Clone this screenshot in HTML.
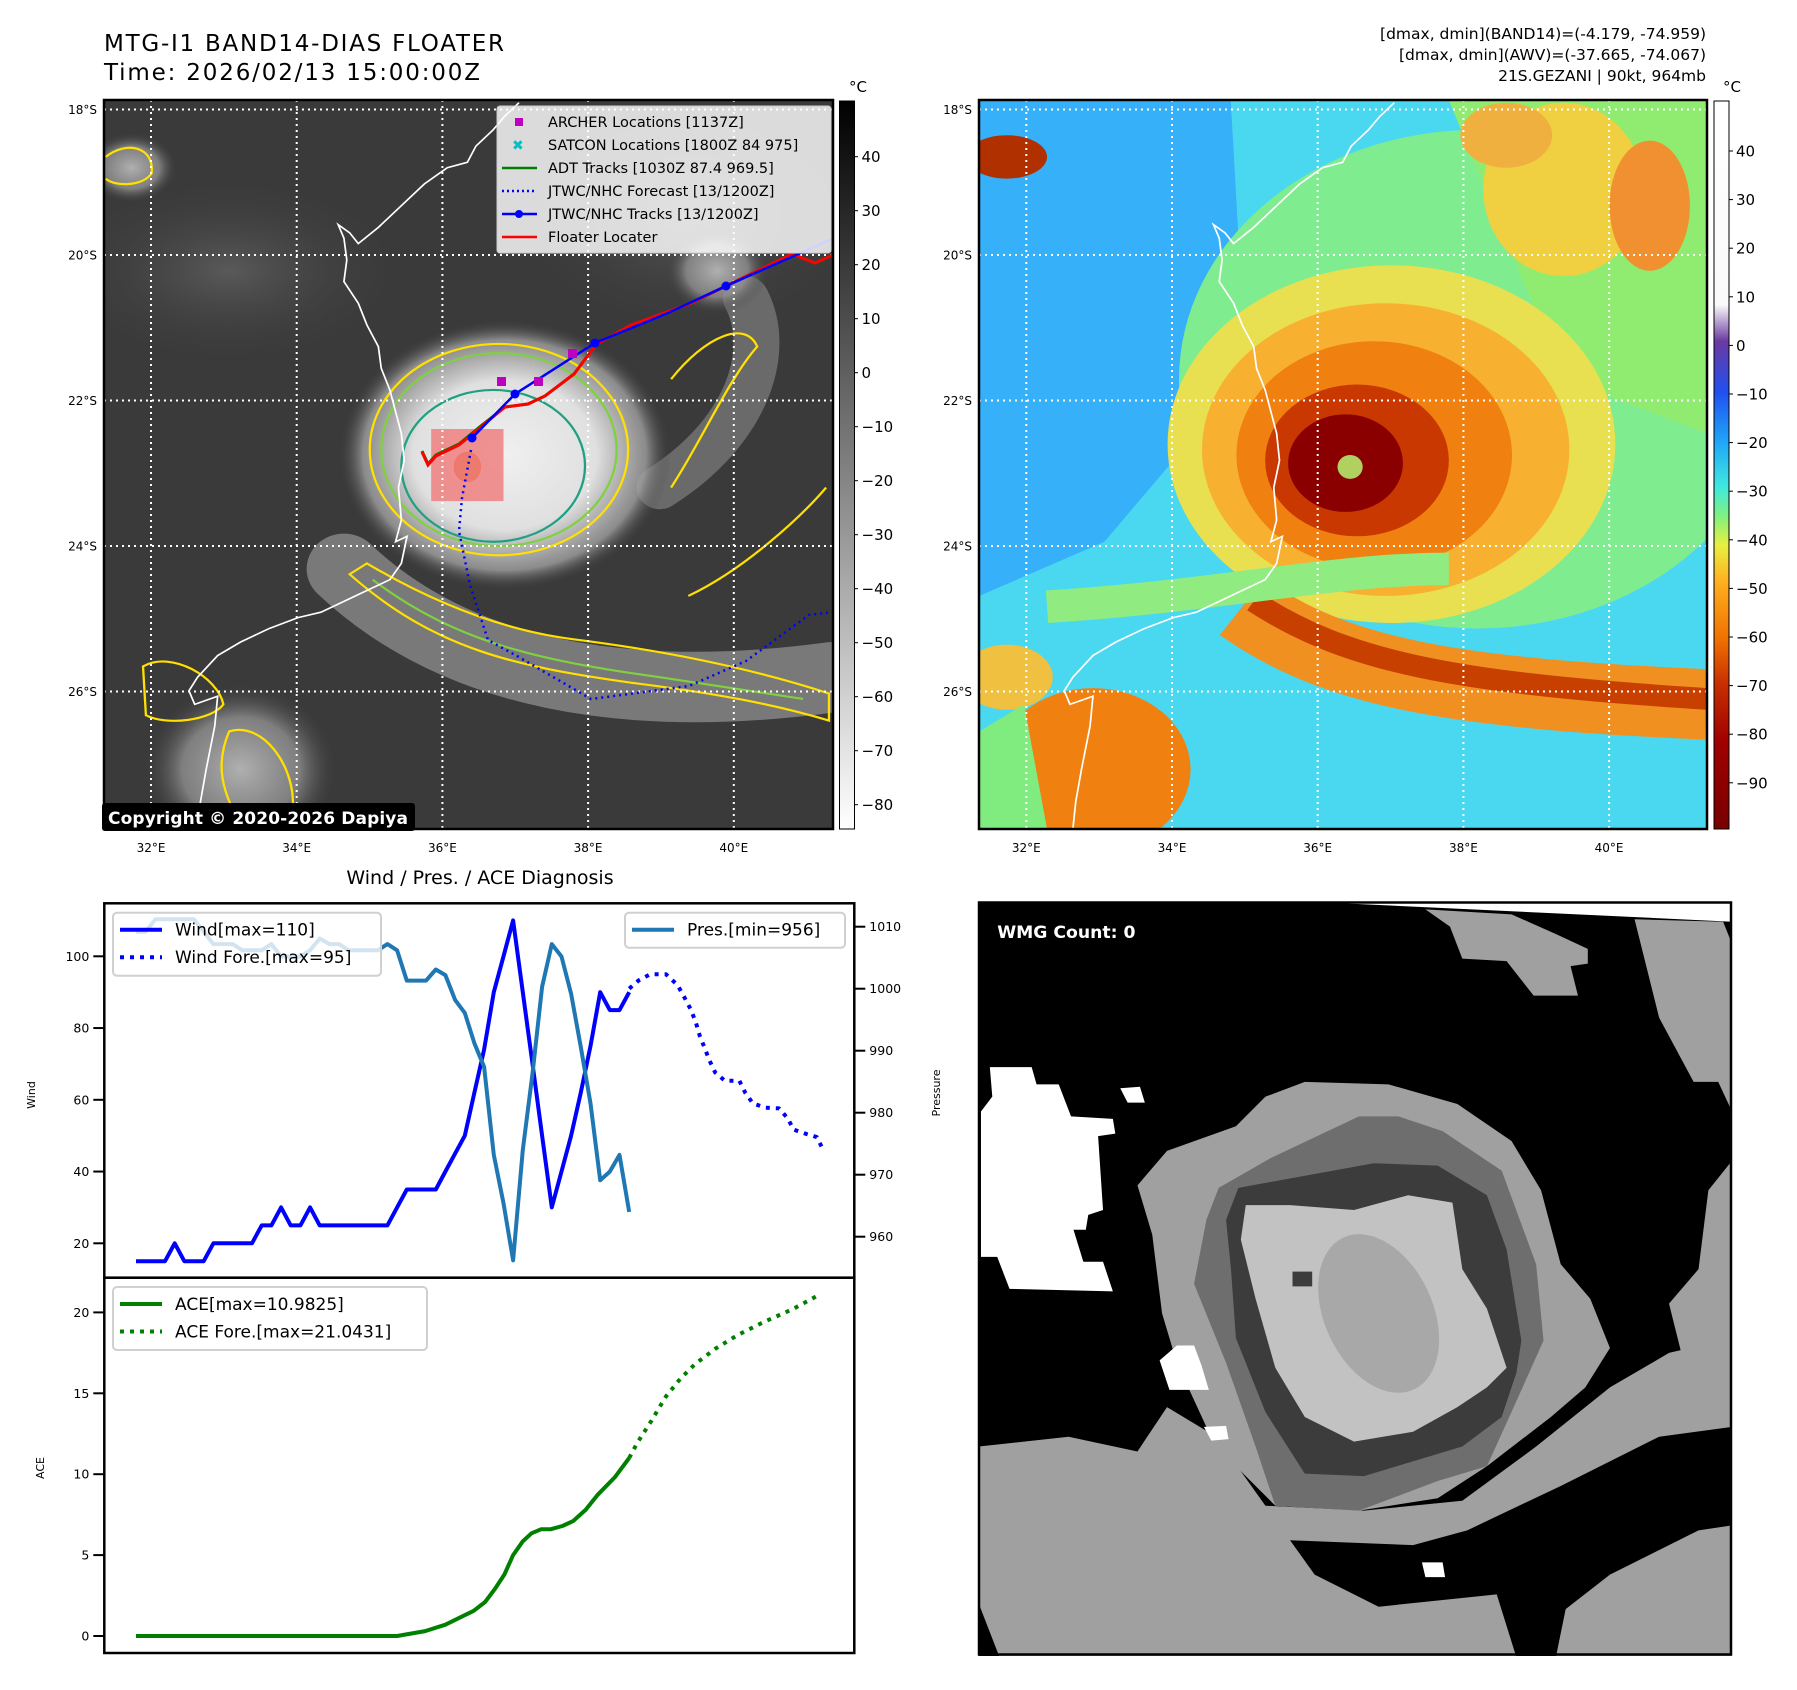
<!DOCTYPE html>
<html><head><meta charset="utf-8"><style>
html,body{margin:0;padding:0;background:#fff;}
svg{display:block;font-family:"DejaVu Sans","Liberation Sans",sans-serif;}
</style></head><body>
<svg id="root" width="1797" height="1690" viewBox="0 0 1797 1690" xmlns="http://www.w3.org/2000/svg">
<defs>
<radialGradient id="rgLight"><stop offset="0" stop-color="#f0f0f0"/><stop offset="0.55" stop-color="#e0e0e0"/><stop offset="0.85" stop-color="#a0a0a0" stop-opacity="0.8"/><stop offset="1" stop-color="#3a3a3a" stop-opacity="0"/></radialGradient>
<radialGradient id="rgGray"><stop offset="0" stop-color="#b0b0b0"/><stop offset="0.6" stop-color="#909090" stop-opacity="0.8"/><stop offset="1" stop-color="#3a3a3a" stop-opacity="0"/></radialGradient>
<radialGradient id="rgDim"><stop offset="0" stop-color="#5a5a5a"/><stop offset="1" stop-color="#3a3a3a" stop-opacity="0"/></radialGradient>
<clipPath id="clip1"><rect x="104" y="100" width="729" height="729"/></clipPath>
<clipPath id="clip2"><rect x="979" y="100" width="729" height="729"/></clipPath>
<linearGradient id="cb1" x1="0" y1="0" x2="0" y2="1"><stop offset="0" stop-color="#000"/><stop offset="1" stop-color="#fff"/></linearGradient>
<linearGradient id="cb2" x1="0" y1="0" x2="0" y2="1">
<stop offset="0" stop-color="#fff"/><stop offset="0.28" stop-color="#fafafa"/><stop offset="0.33" stop-color="#6a3aa0"/>
<stop offset="0.40" stop-color="#2050f0"/><stop offset="0.47" stop-color="#20a8f8"/><stop offset="0.53" stop-color="#40e8e0"/>
<stop offset="0.57" stop-color="#80f080"/><stop offset="0.61" stop-color="#e8f040"/><stop offset="0.66" stop-color="#ffb020"/>
<stop offset="0.74" stop-color="#f07000"/><stop offset="0.80" stop-color="#c83000"/><stop offset="0.88" stop-color="#a00000"/><stop offset="1" stop-color="#780000"/>
</linearGradient>
</defs>

<text x="104" y="51" font-size="23" textLength="400">MTG-I1 BAND14-DIAS FLOATER</text>
<text x="104" y="80" font-size="23" textLength="376">Time: 2026/02/13 15:00:00Z</text>
<g font-size="15.5" text-anchor="end">
<text x="1706" y="39">[dmax, dmin](BAND14)=(-4.179, -74.959)</text>
<text x="1706" y="60">[dmax, dmin](AWV)=(-37.665, -74.067)</text>
<text x="1706" y="81">21S.GEZANI | 90kt, 964mb</text>
</g>

<g clip-path="url(#clip1)">
<rect x="104" y="100" width="729" height="729" fill="#3a3a3a"/>
<g transform="translate(104,100) scale(0.574,0.542) translate(-182,-185)">
<ellipse cx="400" cy="500" rx="320" ry="180" fill="url(#rgDim)"/>
<ellipse cx="1200" cy="400" rx="320" ry="220" fill="url(#rgDim)"/>
<path d="M600,1050 C800,1250 1100,1300 1450,1250" stroke="#8a8a8a" stroke-opacity="0.8" stroke-width="130" fill="none" stroke-linecap="round"/>
<path d="M1150,900 C1300,800 1350,650 1300,550" stroke="#6a6a6a" stroke-width="80" fill="none" stroke-linecap="round"/>
<ellipse cx="880" cy="840" rx="290" ry="250" fill="url(#rgLight)"/>
<ellipse cx="230" cy="310" rx="80" ry="65" fill="url(#rgGray)"/>
<ellipse cx="420" cy="1420" rx="170" ry="160" fill="url(#rgGray)"/>
<ellipse cx="1250" cy="500" rx="90" ry="80" fill="url(#rgGray)"/>
<g fill="none" stroke-width="4">
<ellipse cx="870" cy="830" rx="225" ry="195" stroke="#ffe000"/>
<ellipse cx="870" cy="830" rx="205" ry="178" stroke="#80d040"/>
<ellipse cx="860" cy="860" rx="160" ry="140" stroke="#20a080"/>
<path d="M610,1060 C760,1200 900,1230 1100,1260 C1250,1280 1350,1300 1445,1330 L1445,1280 C1300,1230 1150,1200 1000,1180 C850,1160 720,1090 640,1040 Z" stroke="#ffe000"/>
<path d="M650,1070 C800,1190 950,1220 1150,1250 L1400,1290" stroke="#80d040"/>
<path d="M250,1230 C300,1200 380,1250 390,1300 C370,1330 290,1340 255,1320 Z" stroke="#ffe000"/>
<path d="M400,1350 C460,1330 520,1420 510,1500 L420,1520 C380,1450 380,1400 400,1350 Z" stroke="#ffe000"/>
<path d="M185,290 C220,260 270,270 265,320 C250,345 200,345 185,330" stroke="#ffe000"/>
<path d="M1170,700 C1230,620 1300,590 1320,640 C1270,700 1220,820 1170,900" stroke="#ffe000"/>
<path d="M1200,1100 C1300,1050 1400,950 1440,900" stroke="#ffe000"/>
<ellipse cx="815" cy="862" rx="22" ry="26" stroke="#ff4000" fill="#cc6600"/>
</g>
<path d="M905,190 L880,215 L860,240 L830,270 L815,300 L780,310 L740,340 L700,380 L660,420 L625,450 L610,430 L590,415 L600,440 L605,480 L600,520 L625,560 L640,600 L660,640 L665,680 L680,720 L690,760 L700,800 L705,850 L695,900 L700,960 L690,1000 L710,990 L700,1040 L680,1070 L640,1090 L600,1110 L560,1130 L520,1140 L470,1160 L420,1185 L380,1210 L345,1250 L330,1275 L340,1300 L380,1285 L375,1340 L360,1420 L350,1480 L345,1530" fill="none" stroke="#fff" stroke-width="3"/>
<rect x="752" y="792" width="126" height="133" fill="#f08080" opacity="0.85"/>
</g>
<g stroke="#fff" stroke-width="2" stroke-dasharray="2 4">
<line x1="151" y1="100" x2="151" y2="829"/><line x1="296.7" y1="100" x2="296.7" y2="829"/><line x1="442.4" y1="100" x2="442.4" y2="829"/><line x1="588.1" y1="100" x2="588.1" y2="829"/><line x1="733.8" y1="100" x2="733.8" y2="829"/>
<line x1="104" y1="109.5" x2="833" y2="109.5"/><line x1="104" y1="255" x2="833" y2="255"/><line x1="104" y1="400.5" x2="833" y2="400.5"/><line x1="104" y1="546" x2="833" y2="546"/><line x1="104" y1="691.5" x2="833" y2="691.5"/>
</g>
<polyline points="471,450 462,498 459,531 470,585 488,640 517,656 591,699 689,686 746,661 809,615 833,612" fill="none" stroke="#0000ff" stroke-width="2.5" stroke-dasharray="2 4"/>
<polyline points="422,451 428,464 436,455 459,444 482,425 505,407 528,404 545,396 574,374 586,358 597,344 631,325 689,304 792,254 815,263 833,255" fill="none" stroke="#007a00" stroke-width="3"/>
<polyline points="422,452 428,465 436,456 459,445 482,426 505,407 528,404 545,396 574,374 586,358 597,344 631,325 689,304 792,254 815,263 833,255" fill="none" stroke="#ff0000" stroke-width="3"/>
<g>
<polyline points="472,438 515,394 595,343 668,313 726,286 832,239" fill="none" stroke="#0000ff" stroke-width="2.5"/>
<circle cx="472" cy="438" r="4.5" fill="#0000ff"/><circle cx="515" cy="394" r="4.5" fill="#0000ff"/><circle cx="595" cy="343" r="4.5" fill="#0000ff"/><circle cx="726" cy="286" r="4.5" fill="#0000ff"/>
</g>
<g fill="#c000c0">
<rect x="497" y="377" width="9" height="9"/><rect x="534" y="377" width="9" height="9"/><rect x="568" y="349" width="9" height="9"/>
</g>
</g>
<rect x="104" y="100" width="729" height="729" fill="none" stroke="#000" stroke-width="2.5"/>
<g>
<rect x="497" y="106" width="334" height="147" rx="3" fill="#fff" fill-opacity="0.82" stroke="#ccc"/>
<g font-size="14.5">
<rect x="515" y="118" width="8" height="8" fill="#c000c0"/><text x="548" y="127">ARCHER Locations [1137Z]</text>
<text x="512" y="150" fill="#00c0c0" font-size="14" font-weight="bold">✖</text><text x="548" y="150">SATCON Locations [1800Z 84 975]</text>
<line x1="502" y1="168" x2="537" y2="168" stroke="#007a00" stroke-width="2.5"/><text x="548" y="173">ADT Tracks [1030Z 87.4 969.5]</text>
<line x1="502" y1="191" x2="537" y2="191" stroke="#0000ff" stroke-width="2.5" stroke-dasharray="2 3"/><text x="548" y="196">JTWC/NHC Forecast [13/1200Z]</text>
<line x1="502" y1="214" x2="537" y2="214" stroke="#0000ff" stroke-width="2.5"/><circle cx="519" cy="214" r="4" fill="#0000ff"/><text x="548" y="219">JTWC/NHC Tracks [13/1200Z]</text>
<line x1="502" y1="237" x2="537" y2="237" stroke="#ff0000" stroke-width="2.5"/><text x="548" y="242">Floater Locater</text>
</g></g>
<g>
<rect x="102" y="803" width="313" height="28" rx="3" fill="#000"/>
<text x="108" y="824" font-size="17" font-weight="bold" fill="#fff" textLength="300">Copyright © 2020-2026 Dapiya</text>
</g>

<g clip-path="url(#clip2)">
<rect x="979" y="100" width="729" height="729" fill="#4ad8f0"/>
<g transform="translate(979.3,100) scale(0.574,0.542) translate(-182,-185)">
<path d="M182,185 L620,185 L640,560 L560,800 L400,1000 L182,1100 Z" fill="#36b0f8"/>
<ellipse cx="1050" cy="700" rx="520" ry="460" fill="#80ec90"/>
<path d="M1000,185 L1450,185 L1450,800 L1200,700 Z" fill="#90ec70"/>
<ellipse cx="1200" cy="350" rx="140" ry="160" fill="#f0d040"/>
<ellipse cx="1350" cy="380" rx="70" ry="120" fill="#f09030"/>
<ellipse cx="1100" cy="250" rx="80" ry="60" fill="#f0b040"/>
<ellipse cx="900" cy="820" rx="390" ry="330" fill="#e8e050"/>
<ellipse cx="890" cy="830" rx="320" ry="270" fill="#f8b030"/>
<ellipse cx="870" cy="840" rx="240" ry="210" fill="#f08010"/>
<ellipse cx="840" cy="850" rx="160" ry="140" fill="#c83800"/>
<ellipse cx="820" cy="855" rx="100" ry="90" fill="#8a0000"/>
<ellipse cx="828" cy="862" rx="22" ry="22" fill="#b0d060"/>
<path d="M640,1120 C800,1240 1000,1280 1450,1300" stroke="#f09020" stroke-width="130" fill="none"/>
<path d="M660,1110 C820,1220 1000,1260 1450,1290" stroke="#c84000" stroke-width="40" fill="none"/>
<path d="M300,1120 C600,1100 800,1050 1000,1050" stroke="#90ec80" stroke-width="60" fill="none"/>
<ellipse cx="230" cy="290" rx="70" ry="40" fill="#b03000"/>
<ellipse cx="380" cy="1420" rx="170" ry="150" fill="#f08010"/>
<ellipse cx="230" cy="1250" rx="80" ry="60" fill="#f0c040"/>
<path d="M182,1530 L182,1350 L260,1300 L300,1530 Z" fill="#80ec80"/>
<path d="M905,190 L880,215 L860,240 L830,270 L815,300 L780,310 L740,340 L700,380 L660,420 L625,450 L610,430 L590,415 L600,440 L605,480 L600,520 L625,560 L640,600 L660,640 L665,680 L680,720 L690,760 L700,800 L705,850 L695,900 L700,960 L690,1000 L710,990 L700,1040 L680,1070 L640,1090 L600,1110 L560,1130 L520,1140 L470,1160 L420,1185 L380,1210 L345,1250 L330,1275 L340,1300 L380,1285 L375,1340 L360,1420 L350,1480 L345,1530" fill="none" stroke="#fff" stroke-width="3"/>
</g>
<g stroke="#fff" stroke-width="2" stroke-dasharray="2 4">
<line x1="1026.3" y1="100" x2="1026.3" y2="829"/><line x1="1172" y1="100" x2="1172" y2="829"/><line x1="1317.7" y1="100" x2="1317.7" y2="829"/><line x1="1463.4" y1="100" x2="1463.4" y2="829"/><line x1="1609.1" y1="100" x2="1609.1" y2="829"/>
<line x1="979" y1="109.5" x2="1708" y2="109.5"/><line x1="979" y1="255" x2="1708" y2="255"/><line x1="979" y1="400.5" x2="1708" y2="400.5"/><line x1="979" y1="546" x2="1708" y2="546"/><line x1="979" y1="691.5" x2="1708" y2="691.5"/>
</g>
</g>
<rect x="979" y="100" width="728" height="729" fill="none" stroke="#000" stroke-width="2.5"/>

<g font-size="12">
<g text-anchor="middle">
<text x="151" y="852">32°E</text><text x="296.7" y="852">34°E</text><text x="442.4" y="852">36°E</text><text x="588.1" y="852">38°E</text><text x="733.8" y="852">40°E</text>
<text x="1026.3" y="852">32°E</text><text x="1172" y="852">34°E</text><text x="1317.7" y="852">36°E</text><text x="1463.4" y="852">38°E</text><text x="1609.1" y="852">40°E</text>
</g>
<g text-anchor="end">
<text x="97" y="114">18°S</text><text x="97" y="259.5">20°S</text><text x="97" y="405">22°S</text><text x="97" y="550.5">24°S</text><text x="97" y="696">26°S</text>
<text x="972" y="114">18°S</text><text x="972" y="259.5">20°S</text><text x="972" y="405">22°S</text><text x="972" y="550.5">24°S</text><text x="972" y="696">26°S</text>
</g></g>

<g>
<rect x="839.5" y="101" width="15" height="728" fill="url(#cb1)" stroke="#000" stroke-width="1"/>
<text x="849" y="92" font-size="15">°C</text>
<g id="cb1labels" font-size="15"></g>
</g>
<g>
<rect x="1714" y="101" width="15" height="728" fill="url(#cb2)" stroke="#000" stroke-width="1"/>
<text x="1723" y="92" font-size="15">°C</text>
<g id="cb2labels" font-size="15"></g>
</g>

<text x="480" y="884" font-size="19" text-anchor="middle">Wind / Pres. / ACE Diagnosis</text>
<g id="chart"></g>
<text transform="translate(35,1095) rotate(-90)" font-size="11" text-anchor="middle">Wind</text>
<text transform="translate(940,1093) rotate(-90)" font-size="11" text-anchor="middle">Pressure</text>
<text transform="translate(44,1468) rotate(-90)" font-size="11" text-anchor="middle">ACE</text>

<svg x="979" y="902" width="753" height="754" viewBox="18 15 1530 1530" preserveAspectRatio="none">
<rect x="18" y="15" width="1530" height="1530" fill="#000"/>
<polygon points="700,15 1548,15 1548,55" fill="#fff"/>
<polygon points="925,30 1100,40 1190,80 1255,110 1255,140 1220,145 1235,205 1145,205 1090,135 1000,130 975,65" fill="#a0a0a0"/>
<polygon points="1350,50 1530,55 1548,100 1548,440 1520,380 1470,380 1400,250" fill="#a0a0a0"/>
<polygon points="1500,600 1548,540 1548,960 1450,950 1420,830 1480,760" fill="#a0a0a0"/>
<polygon points="18,1120 200,1100 340,1130 400,1040 500,1100 600,1240 800,1250 1000,1230 1150,1120 1300,1000 1420,930 1548,900 1548,1548 18,1548" fill="#a0a0a0"/>
<polygon points="650,1310 900,1320 1010,1290 1200,1200 1400,1100 1548,1080 1548,1280 1480,1290 1300,1380 1210,1450 1190,1548 1110,1548 1070,1420 830,1445 700,1380" fill="#000"/>
<polygon points="18,1440 60,1548 18,1548" fill="#000"/>
<polygon points="340,590 400,520 540,470 600,410 680,380 850,385 990,425 1100,500 1160,600 1200,750 1260,820 1300,920 1250,1000 1180,1060 1050,1160 950,1225 790,1250 620,1240 540,1160 480,1080 420,950 390,850 370,690" fill="#a0a0a0"/>
<polygon points="505,595 610,535 790,450 870,450 960,480 1080,560 1150,750 1165,905 1100,1050 1050,1160 950,1190 790,1250 620,1240 580,1120 520,950 455,790 480,660" fill="#6e6e6e"/>
<polygon points="545,595 820,545 950,550 1050,610 1090,720 1120,905 1110,970 1080,1060 1000,1120 800,1180 680,1175 600,1050 540,900 530,760 520,660" fill="#3c3c3c"/>
<polygon points="560,630 650,630 780,640 890,610 980,625 1000,760 1050,840 1090,960 1050,1000 990,1040 900,1090 780,1110 680,1060 620,960 580,820 550,700" fill="#c2c2c2"/>
<ellipse cx="830" cy="850" rx="110" ry="170" transform="rotate(-25 830 850)" fill="#a8a8a8"/>
<rect x="655" y="765" width="40" height="30" fill="#3c3c3c"/>
<polygon points="40,350 125,350 135,385 180,385 205,450 290,455 295,485 260,490 270,640 240,650 235,680 210,680 230,745 270,745 290,805 80,800 55,735 22,735 22,440 45,410" fill="#fff"/>
<polygon points="305,393 345,390 355,422 320,422" fill="#fff"/>
<polygon points="385,945 420,915 455,915 470,955 485,1005 405,1005" fill="#fff"/>
<polygon points="475,1080 520,1078 525,1105 490,1108" fill="#fff"/>
<polygon points="918,1355 960,1355 965,1385 925,1385" fill="#fff"/>
<text x="55" y="88" font-size="35" font-weight="bold" fill="#fff">WMG Count: 0</text>
</svg>
<rect x="979" y="902.5" width="752" height="752" fill="none" stroke="#000" stroke-width="2.5"/>
</svg>

<script>
const windObs = [15,15,15,15,20,15,15,15,20,20,20,20,20,25,25,30,25,25,30,25,25,25,25,25,25,25,25,30,35,35,35,35,40,45,50,62,74,90,100,110,90,70,50,30,40,50,62,75,90,85,85,90];
const presObs = [1009.2,1009.2,1011.2,1011.2,1011.2,1011.2,1011.2,1009.2,1007.2,1007.2,1007.2,1006.2,1006.2,1006.2,1007.2,1005.2,1005.2,1005.2,1006.2,1008.1,1007.2,1007.2,1006.2,1006.2,1006.2,1006.2,1007.2,1006.2,1001.3,1001.3,1001.3,1003.1,1002.2,998.2,996.1,991.2,987.4,973.2,965.4,956.2,974,986.3,1000.3,1007.2,1005.2,999.2,990.6,981.5,969.1,970.5,973.2,964];
const windFcstT = [51,52,53.2,54.8,56,56.7,57.4,57.9,58.3,58.8,59.3,59.9,60.9,62.4,63,63.8,65.1,66.5,67.4,68,69.3,70.4,71.1];
const windFcst = [91,93.3,95,95,92,88.6,85,81.5,77.8,74.5,71,67.6,65.3,65.3,62,59,57.8,57.6,54.8,51.7,50.5,49.6,45.9];
const aceT = [0,27,29.9,32,33.7,34.9,36.1,37.1,38.1,39,40,40.9,41.9,42.9,44.1,45.2,46.5,47.7,49.5,51];
const aceObs = [0,0,0.3,0.7,1.2,1.55,2.1,2.9,3.8,5.0,5.85,6.35,6.6,6.6,6.8,7.1,7.8,8.7,9.8,11.0];
const aceFcstT = [51,51.8,53.3,54.8,56.3,57.8,59.9,62.2,64.9,67.9,70.5];
const aceFcst = [11.0,11.9,13.3,14.8,15.9,16.8,17.75,18.6,19.4,20.2,21.04];
const windTicks = [20,40,60,80,100];
const presTicks = [960,970,980,990,1000,1010];
const aceTicks = [0,5,10,15,20];
const cb1Ticks = [40,30,20,10,0,-10,-20,-30,-40,-50,-60,-70,-80];
const cb2Ticks = [40,30,20,10,0,-10,-20,-30,-40,-50,-60,-70,-80,-90];

const NS='http://www.w3.org/2000/svg';
const L=104.3,R=854.3,T=903.3,M=1277.7,B=1653;
function xT(i){return 136+i*9.67;}
function yW(v){return 1243.3-(v-20)*3.5875;}
function yP(p){return 926.7-(p-1010)*6.2;}
function yA(a){return 1636-a*16.18;}
function mk(tag,attrs,parent){const e=document.createElementNS(NS,tag);for(const k in attrs)e.setAttribute(k,attrs[k]);parent.appendChild(e);return e;}
const g=document.getElementById('chart');
function poly(ts,vs,fx,fy,color,dash,name){
  const pts=ts.map((t,k)=>fx(t).toFixed(1)+','+fy(vs[k]).toFixed(1)).join(' ');
  const a={points:pts,fill:'none',stroke:color,'stroke-width':4,'stroke-linejoin':'round'};
  if(dash)a['stroke-dasharray']=dash;
  const p=mk('polyline',a,g);
  
  
}
const idx=windObs.map((_,i)=>i);
poly(idx,windObs,xT,yW,'#0000ff',null,'wind-line');
poly(windFcstT,windFcst,xT,yW,'#0000ff','4 6','wind-forecast-line');
poly(idx,presObs,xT,yP,'#1f77b4',null,'pressure-line');
poly(aceT,aceObs,xT,yA,'#008000',null,'ace-line');
poly(aceFcstT,aceFcst,xT,yA,'#008000','4 6','ace-forecast-line');

const f1=mk('rect',{x:L,y:T,width:R-L,height:M-T,fill:'none',stroke:'#000','stroke-width':2.5},g);


const f2=mk('rect',{x:L,y:M,width:R-L,height:B-M,fill:'none',stroke:'#000','stroke-width':2.5},g);



function ticks(list,fy,side,name){
  list.forEach(v=>{
    const y=fy(v);
    const x0=side==='l'?L:R, x1=side==='l'?L-11:R+11;
    const t=mk('line',{x1:x0,y1:y,x2:x1,y2:y,stroke:'#000','stroke-width':2},g);
    
    
    const tx=mk('text',{x:side==='l'?L-15:R+15,y:y+4.5,'font-size':12.5,'text-anchor':side==='l'?'end':'start'},g);
    tx.textContent=v;
    
    
  });
}
ticks(windTicks,yW,'l','wind');
ticks(presTicks,yP,'r','pressure');
ticks(aceTicks,yA,'l','ace');

function legend(x,y,w,h,items,name){
  const lg=mk('g',{},g);
  
  
  mk('rect',{x:x,y:y,width:w,height:h,rx:4,fill:'#fff','fill-opacity':0.8,stroke:'#d0d0d0','stroke-width':2},lg);
  items.forEach((it,k)=>{
    const yy=y+17+k*27.5;
    const a={x1:x+7,y1:yy,x2:x+49,y2:yy,stroke:it.c,'stroke-width':4};
    if(it.d)a['stroke-dasharray']='4 6';
    mk('line',a,lg);
    const t=mk('text',{x:x+62,y:yy+6,'font-size':17},lg);
    t.textContent=it.t;
  });
}
legend(113,912.7,268,63,[{c:'#0000ff',t:'Wind[max=110]'},{c:'#0000ff',t:'Wind Fore.[max=95]',d:1}],'wind-legend');
legend(625,912.7,220,35,[{c:'#1f77b4',t:'Pres.[min=956]'}],'pressure-legend');
legend(113,1287,314,63,[{c:'#008000',t:'ACE[max=10.9825]'},{c:'#008000',t:'ACE Fore.[max=21.0431]',d:1}],'ace-legend');

const c1=document.getElementById('cb1labels');
cb1Ticks.forEach(v=>{const y=372.7-v*5.4;
  const t=mk('text',{x:861.5,y:y+5.5},c1);t.textContent=(v<0?'\u2212'+(-v):v);
  
  
  mk('line',{x1:854.5,y1:y,x2:858,y2:y,stroke:'#000'},c1);});
const c2=document.getElementById('cb2labels');
cb2Ticks.forEach(v=>{const y=345.4-v*4.86;
  const t=mk('text',{x:1736,y:y+5.5},c2);t.textContent=(v<0?'\u2212'+(-v):v);
  
  
  mk('line',{x1:1729,y1:y,x2:1733,y2:y,stroke:'#000'},c2);});
</script>
</body></html>
